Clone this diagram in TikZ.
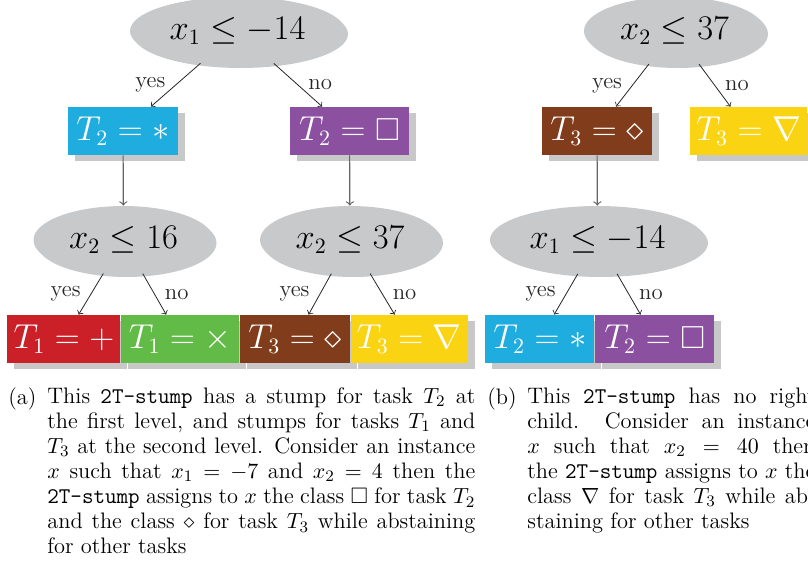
\documentclass[tikz,border=0pt]{standalone}
\usepackage{amssymb}
\usetikzlibrary{shapes.geometric,shadows}
\definecolor{cyanc}{RGB}{30,173,222}
\definecolor{purplec}{RGB}{139,80,160}
\definecolor{redc}{RGB}{204,32,41}
\definecolor{greenc}{RGB}{98,187,71}
\definecolor{brownc}{RGB}{128,60,27}
\definecolor{yellowc}{RGB}{250,212,18}
\definecolor{ellgray}{RGB}{200,201,203}
\definecolor{shadowgray}{RGB}{200,200,200}
\begin{document}
\begin{tikzpicture}[x=0.5pt,y=-0.5pt,
  cond/.style={ellipse, fill=ellgray, inner sep=0pt, minimum height=34pt,
    font=\fontsize{15.9}{18}\selectfont,
    drop shadow={shadow xshift=1.5pt, shadow yshift=-1.5pt, fill=ellgray, opacity=1}},
  leaf/.style={rectangle, text=white, inner xsep=2pt, inner ysep=0pt, minimum height=24pt,
    font=\fontsize{15.9}{18}\selectfont,
    drop shadow={shadow xshift=3.5pt, shadow yshift=-3pt, fill=shadowgray, opacity=1}},
  arr/.style={->, black!85},
  varr/.style={->, black!60, line width=0.6pt},
  lab/.style={font=\fontsize{11.4}{13}\selectfont, inner sep=2pt},
  capstyle/.style={font=\fontsize{11.2}{12.55}\selectfont, inner sep=0pt},
  captext/.style={capstyle, align=justify, anchor=north west}]
\useasboundingbox (0,0) rectangle (808,562);
% left tree
\node[cond, minimum width=107.5pt] (A) at (237.5,31) {$x_1 \le -14$};
\node[leaf, fill=cyanc, minimum width=55pt] (L1) at (123,131) {$T_2 = \ast$};
\node[leaf, fill=purplec, minimum width=59.5pt] (L2) at (349.5,131) {$T_2 = \Box$};
\node[cond, minimum width=90pt] (B) at (123.5,240) {$x_2 \le 16$};
\node[cond, minimum width=90pt] (C) at (350,240) {$x_2 \le 37$};
\node[leaf, fill=redc, anchor=west, minimum width=56.5pt] (L3) at (7,339) {$T_1 = +$};
\node[leaf, fill=greenc, anchor=west, minimum width=59pt] (L4) at (L3.east) {$T_1 = \times$};
\node[leaf, fill=brownc, anchor=west, minimum width=55pt] (L5) at (L4.east) {$T_3 = \diamond$};
\node[leaf, fill=yellowc, anchor=west, minimum width=58.5pt] (L6) at (L5.east) {$T_3 = \nabla$};
\draw[arr] (A) -- node[lab, left=3pt] {yes} (L1);
\draw[arr] (A) -- node[lab, right=3pt] {no} (L2);
\draw[varr] (L1) -- (B);
\draw[varr] (L2) -- (C);
\draw[arr] (B) -- node[lab, left=3pt] {yes} (L3);
\draw[arr] (B) -- node[lab, right=3pt] {no} (L4);
\draw[arr] (C) -- node[lab, left=3pt] {yes} (L5);
\draw[arr] (C) -- node[lab, right=3pt] {no} (L6);
% right tree
\node[cond, minimum width=90.5pt] (D) at (674.5,31) {$x_2 \le 37$};
\node[leaf, fill=brownc, minimum width=55pt] (R1) at (597,131) {$T_3 = \diamond$};
\node[leaf, fill=yellowc, minimum width=58.5pt] (R2) at (748.5,131) {$T_3 = \nabla$};
\node[cond, minimum width=107.5pt] (E) at (597.5,240) {$x_1 \le -14$};
\node[leaf, fill=cyanc, anchor=west, minimum width=54.5pt] (R3) at (485,339) {$T_2 = \ast$};
\node[leaf, fill=purplec, anchor=west, minimum width=59.5pt] (R4) at (R3.east) {$T_2 = \Box$};
\draw[arr] (D) -- node[lab, left=3pt] {yes} (R1);
\draw[arr] (D) -- node[lab, right=3pt] {no} (R2);
\draw[varr] (R1) -- (E);
\draw[arr] (E) -- node[lab, left=3pt] {yes} (R3);
\draw[arr] (E) -- node[lab, right=3pt] {no} (R4);
% captions
\node[capstyle, anchor=base west] (ca) at (8,404) {(a)};
\node[captext, text width=214pt] (ta) at (47,387.2) {This \texttt{2T-stump} has a stump for task $T_2$ at\linebreak
the first level, and stumps for tasks $T_1$ and\linebreak
$T_3$ at the second level. Consider an instance\linebreak
$x$ such that $x_1=-7$ and $x_2=4$ then the\linebreak
\texttt{2T-stump} assigns to $x$ the class $\Box$ for task $T_2$\linebreak
and the class $\diamond$ for task $T_3$ while abstaining\linebreak
for other tasks};
\node[capstyle, anchor=base west] (cb) at (487,404) {(b)};
\node[captext, text width=144pt] (tb) at (527,387.2) {This \texttt{2T-stump} has no right\linebreak
child. Consider an instance\linebreak
$x$ such that $x_2=40$ then\linebreak
the \texttt{2T-stump} assigns to $x$ the\linebreak
class $\nabla$ for task $T_3$ while ab-\linebreak
staining for other tasks};
\end{tikzpicture}
\end{document}
